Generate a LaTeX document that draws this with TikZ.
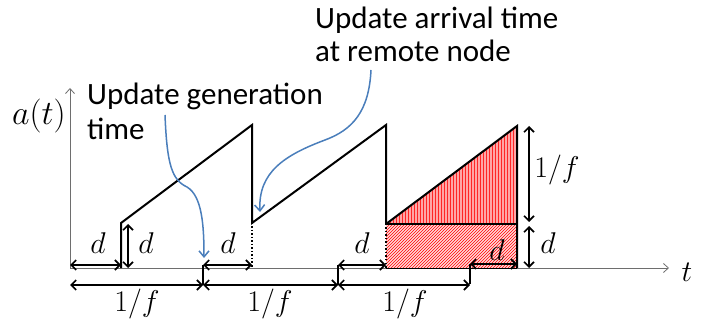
\RequirePackage{fix-cm}
\documentclass[tikz,border=0pt]{standalone}
\usepackage{fontspec}
\setmainfont{Carlito}
\usetikzlibrary{arrows.meta,patterns}
\definecolor{callblue}{RGB}{74,126,187}
\definecolor{axgray}{RGB}{110,110,110}
\tikzset{
  saw/.style={line width=2pt, black, line join=miter},
  dimarrow/.style={line width=1.6pt, {Straight Barb[length=5pt,width=10pt]}-{Straight Barb[length=5pt,width=10pt]}},
  tickline/.style={line width=1.6pt},
  axisline/.style={axgray, line width=0.8pt, -{Straight Barb[length=5pt,width=9pt,line width=0.8pt]}},
  callout/.style={callblue, line width=1.5pt, -{Straight Barb[length=6pt,width=10pt]}},
  mlab/.style={inner sep=0pt, font=\fontsize{30}{32}\selectfont},
  txt/.style={inner sep=0pt, anchor=base west, font=\fontsize{31}{34}\selectfont}
}
\begin{document}
\begin{tikzpicture}[x=1pt,y=-1pt]
\useasboundingbox (0,0) rectangle (713,326);
% key points
\coordinate (O) at (70,268);
\coordinate (Ytop) at (70,88);
\coordinate (Xend) at (669,268);
\coordinate (A1) at (121,268);
\coordinate (A2) at (121,223);
\coordinate (P1) at (252,125);
\coordinate (B1) at (252,223);
\coordinate (B0) at (252,268);
\coordinate (P2) at (386,125);
\coordinate (C1) at (386,224);
\coordinate (C0) at (386,268);
\coordinate (P3) at (517,126);
\coordinate (D1) at (517,224);
\coordinate (D0) at (517,268);
% filled regions
\fill[red!35] (C1) -- (P3) -- (D1) -- cycle;
\fill[pattern=vertical lines, pattern color=red!85] (C1) -- (P3) -- (D1) -- cycle;
\fill[red!15] (C1) rectangle (D0);
\fill[pattern=north east lines, pattern color=red] (C1) rectangle (D0);
% axes
\draw[axisline] (O) -- (Ytop);
\draw[axisline] (O) -- (Xend);
\node[mlab, font=\fontsize{34}{36}\selectfont] (at) at (39,116) {$a(t)$};
\node[mlab] (tl) at (687,272) {$t$};
% sawtooth
\draw[saw] (A1) -- (A2) -- (P1) -- (B1) -- (P2) -- (C1);
\draw[saw] (C1) -- (P3) -- (D0);
\draw[saw] (C1) -- (D1);
\draw[line width=1.5pt, dotted] (B1) -- (B0);
\draw[line width=1.5pt, dotted] (C1) -- (C0);
\draw[line width=0.8pt] (C0) -- (D0);
% ticks
\coordinate (T1a) at (203,265); \coordinate (T1b) at (203,285);
\coordinate (T2a) at (338,265); \coordinate (T2b) at (338,285);
\coordinate (T3a) at (470,264); \coordinate (T3b) at (470,284);
\draw[tickline] (T1a) -- (T1b);
\draw[tickline] (T2a) -- (T2b);
\draw[tickline] (T3a) -- (T3b);
% d arrows
\coordinate (d1a) at (70,265); \coordinate (d1b) at (121,265);
\draw[dimarrow] (d1a) -- (d1b);
\node[mlab] (dl1) at (98,243) {$d$};
\coordinate (dva) at (128,224); \coordinate (dvb) at (128,268);
\draw[dimarrow] (dva) -- (dvb);
\node[mlab] (dl2) at (146,243) {$d$};
\coordinate (d3a) at (203,265); \coordinate (d3b) at (252,265);
\draw[dimarrow] (d3a) -- (d3b);
\node[mlab] (dl3) at (228,243) {$d$};
\coordinate (d4a) at (338,265); \coordinate (d4b) at (386,265);
\draw[dimarrow] (d4a) -- (d4b);
\node[mlab] (dl4) at (362,243) {$d$};
\coordinate (d5a) at (470,264); \coordinate (d5b) at (517,264);
\draw[dimarrow] (d5a) -- (d5b);
\node[mlab] (dl5) at (497,250) {$d$};
% 1/f arrows
\coordinate (f1a) at (70,285); \coordinate (f1b) at (203,285);
\draw[dimarrow] (f1a) -- (f1b);
\node[mlab] (fl1) at (137,304) {$1/f$};
\coordinate (f2b) at (338,285);
\draw[dimarrow] (f1b) -- (f2b);
\node[mlab] (fl2) at (270,304) {$1/f$};
\coordinate (f3b) at (470,285);
\draw[dimarrow] (f2b) -- (f3b);
\node[mlab] (fl3) at (405,304) {$1/f$};
% vertical arrows on right
\coordinate (v1a) at (529,126); \coordinate (v1b) at (529,222);
\draw[dimarrow] (v1a) -- (v1b);
\node[mlab] (vl1) at (557,170) {$1/f$};
\coordinate (v2a) at (529,226); \coordinate (v2b) at (529,268);
\draw[dimarrow] (v2a) -- (v2b);
\node[mlab] (vl2) at (548,243) {$d$};
% texts
\node[txt] (gen1) at (87,105) {Update generation};
\node[txt] (gen2) at (87,140) {time};
\node[txt] (arr1) at (315,29) {Update arrival time};
\node[txt] (arr2) at (315,62) {at remote node};
% callouts
\coordinate (c1s) at (165,115);
\coordinate (c1m) at (187,187);
\coordinate (c1e) at (204,258);
\draw[callout] (c1s) .. controls (167,165) and (172,180) .. (c1m) .. controls (202,196) and (204,225) .. (c1e);
\coordinate (c2s) at (371,70);
\coordinate (c2m) at (325,140);
\coordinate (c2e) at (260,212);
\draw[callout] (c2s) .. controls (369,112) and (352,130) .. (c2m) .. controls (285,155) and (258,172) .. (c2e);
\end{tikzpicture}
\end{document}
